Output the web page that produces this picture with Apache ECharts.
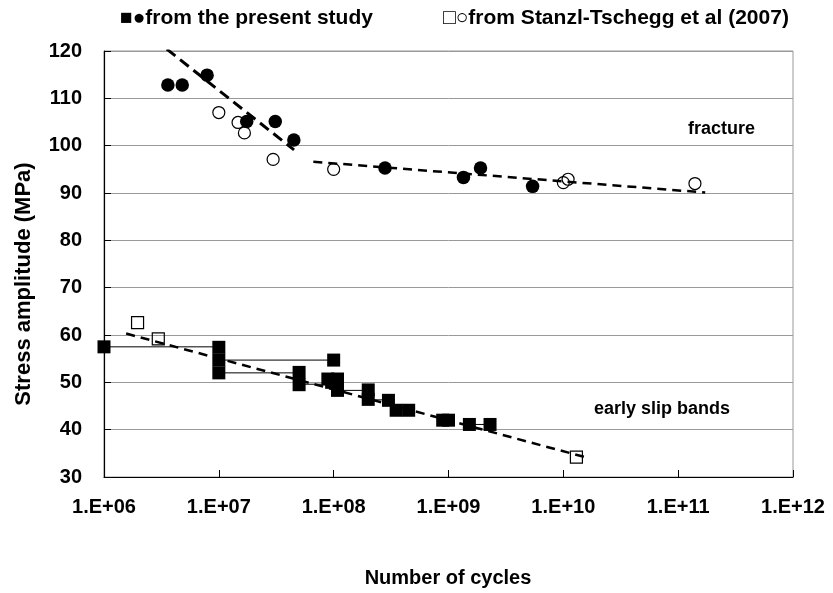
<!DOCTYPE html>
<html>
<head>
<meta charset="utf-8">
<script src="https://cdn.jsdelivr.net/npm/echarts@6/dist/echarts.min.js"></script>
<style>html,body{margin:0;padding:0;background:#fff;}#c{width:833px;height:593px;}</style>
</head>
<body>
<div id="c"></div>
<script>
// ---- data ----
const xTickLabels = ['1.E+06','1.E+07','1.E+08','1.E+09','1.E+10','1.E+11','1.E+12'];
const yTickValues = [30,40,50,60,70,80,90,100,110,120];

// fracture, present study (filled circles)
const fracFilledN = [3.6e6, 4.8e6, 7.9e6, 1.75e7, 3.1e7, 4.5e7, 2.8e8, 1.35e9, 1.9e9, 5.4e9];
const fracFilledS = [112.8, 112.8, 114.9, 105.1, 105.1, 101.2, 95.3, 93.3, 95.3, 91.4];
// fracture, Stanzl-Tschegg (open circles)
const fracOpenN = [1.0e7, 1.47e7, 1.67e7, 2.97e7, 1.0e8, 1.0e10, 1.1e10, 1.4e11];
const fracOpenS = [107.0, 104.9, 102.7, 97.1, 95.0, 92.2, 92.9, 92.0];
// early slip bands, present study (filled squares)
const slipFilledN = [1e6, 1e7, 1e7, 1e7, 1e8, 5e7, 5e7, 8.9e7, 1.08e8, 9.6e7, 1.08e8, 2e8, 2e8, 3e8, 3.5e8, 4.5e8, 8.9e8, 1.0e9, 1.52e9, 2.3e9];
const slipFilledS = [57.5, 57.4, 54.7, 52.0, 54.7, 52.1, 49.5, 50.7, 50.7, 50.0, 48.3, 48.4, 46.4, 46.2, 44.1, 44.1, 42.0, 42.0, 41.1, 41.1];
// early slip bands, Stanzl-Tschegg (open squares)
const slipOpenN = [1.96e6, 2.97e6, 1.3e10];
const slipOpenS = [62.6, 59.2, 34.2];
// thin horizontal links between step-test points: start N, end N, stress
const linkStartN = [1e6, 1e7, 1e7, 5e7, 1.08e8, 2e8, 8.9e8, 1.52e9];
const linkEndN   = [1e7, 1e8, 5e7, 9e7, 2e8, 3e8, 1.0e9, 2.3e9];
const linkS      = [57.5, 54.7, 52.0, 49.6, 48.3, 46.3, 42.0, 41.1];
// dashed trend lines
const fracTrend1N = [3.52e6, 4.52e7];
const fracTrend1S = [120.4, 99.1];
const fracTrend2N = [6.65e7, 1.72e11];
const fracTrend2S = [96.6, 90.1];
const slipTrendN = [1.56e6, 1.6e10];
const slipTrendS = [60.3, 34.1];

const FONT = "'Liberation Sans', Arial, sans-serif";
const zip = (a, b) => a.map((v, i) => [v, b[i]]);

const series = [];
linkStartN.forEach((n, i) => {
  series.push({
    type: 'line', data: [[n, linkS[i]], [linkEndN[i], linkS[i]]],
    symbol: 'none', lineStyle: {color: '#000', width: 1}, z: 2, silent: true
  });
});
series.push({type: 'scatter', data: zip(slipFilledN, slipFilledS), symbol: 'rect', symbolSize: 13,
  itemStyle: {color: '#000', opacity: 1}, z: 3});
series.push({type: 'scatter', data: zip(slipOpenN, slipOpenS), symbol: 'rect', symbolSize: 12,
  itemStyle: {color: 'rgba(255,255,255,0)', borderColor: '#000', borderWidth: 1.2, opacity: 1}, z: 3});
series.push({type: 'scatter', data: zip(fracFilledN, fracFilledS), symbol: 'circle', symbolSize: 13.5,
  itemStyle: {color: '#000', opacity: 1}, z: 3});
series.push({type: 'scatter', data: zip(fracOpenN, fracOpenS), symbol: 'circle', symbolSize: 12,
  itemStyle: {color: 'rgba(255,255,255,0)', borderColor: '#000', borderWidth: 1.2, opacity: 1}, z: 3});
series.push({type: 'line', data: zip(fracTrend1N, fracTrend1S), symbol: 'none',
  lineStyle: {color: '#000', width: 3, type: [11, 6]}, z: 4});
series.push({type: 'line', data: zip(fracTrend2N, fracTrend2S), symbol: 'none',
  lineStyle: {color: '#000', width: 2.5, type: [9, 6]}, z: 4});
series.push({type: 'line', data: zip(slipTrendN, slipTrendS), symbol: 'none',
  lineStyle: {color: '#000', width: 2.5, type: [9, 6]}, z: 4});

const chart = echarts.init(document.getElementById('c'), null, {renderer: 'canvas'});
chart.setOption({
  animation: false,
  backgroundColor: '#fff',
  grid: {left: 104, right: 40, top: 51, bottom: 116, show: true, borderColor: '#999', borderWidth: 1},
  xAxis: {
    type: 'log', logBase: 10, min: 1e6, max: 1e12, splitNumber: 6,
    axisLine: {lineStyle: {color: '#000', width: 1.2}},
    axisTick: {inside: true, length: 7, lineStyle: {color: '#000'}},
    splitLine: {show: false},
    axisLabel: {
      margin: 20, color: '#000', fontFamily: FONT, fontWeight: 'bold', fontSize: 20,
      formatter: v => xTickLabels[Math.round(Math.log10(v)) - 6] || ''
    }
  },
  yAxis: {
    type: 'value', min: yTickValues[0], max: yTickValues[yTickValues.length - 1], interval: 10,
    axisLine: {show: true, lineStyle: {color: '#000', width: 1.2}},
    axisTick: {show: true, inside: true, length: 7, lineStyle: {color: '#000'}},
    splitLine: {lineStyle: {color: '#999', width: 1}},
    axisLabel: {margin: 22, color: '#000', fontFamily: FONT, fontWeight: 'bold', fontSize: 20}
  },
  graphic: [
    {type: 'text', x: 448, y: 578, style: {text: 'Number of cycles', fill: '#000',
      font: "bold 20px 'Liberation Sans', Arial, sans-serif", align: 'center', verticalAlign: 'middle'}},
    {type: 'text', x: 24, y: 284, rotation: Math.PI / 2, style: {text: 'Stress amplitude (MPa)', fill: '#000',
      font: "bold 22px 'Liberation Sans', Arial, sans-serif", align: 'center', verticalAlign: 'middle'}},
    {type: 'text', x: 120, y: 18, style: {text: '■●from the present study', fill: '#000',
      font: "bold 21px 'Liberation Sans', Arial, sans-serif", verticalAlign: 'middle'}},
    {type: 'text', x: 443, y: 18, style: {text: '□○from Stanzl-Tschegg et al (2007)', fill: '#000',
      font: "bold 21px 'Liberation Sans', Arial, sans-serif", verticalAlign: 'middle'}},
    {type: 'text', x: 688, y: 129, style: {text: 'fracture', fill: '#000',
      font: "bold 18px 'Liberation Sans', Arial, sans-serif", verticalAlign: 'middle'}},
    {type: 'text', x: 594, y: 409, style: {text: 'early slip bands', fill: '#000',
      font: "bold 18px 'Liberation Sans', Arial, sans-serif", verticalAlign: 'middle'}}
  ],
  series: series
});
</script>
</body>
</html>
